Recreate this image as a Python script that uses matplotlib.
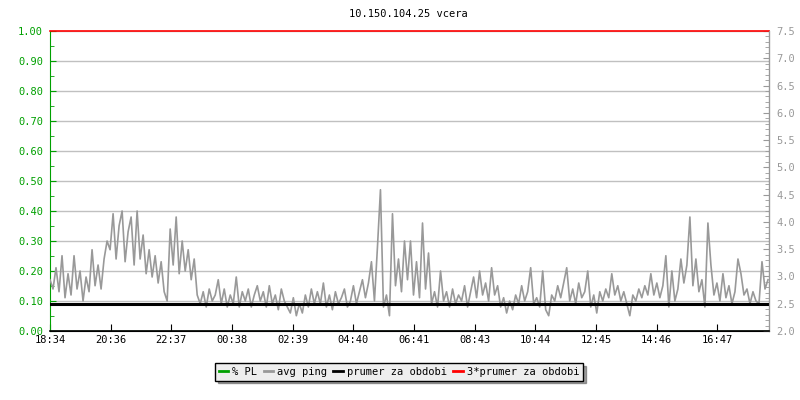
import matplotlib.pyplot as plt
import numpy as np

# avg ping [ms], one sample every 6 minutes from 18:34 (one row = one hour)
ping_ms = [
    2.94, 2.77, 3.16, 2.72, 3.38, 2.61, 3.05, 2.66, 3.38, 2.77,
    3.10, 2.55, 2.99, 2.72, 3.49, 2.83, 3.21, 2.77, 3.32, 3.65,
    3.49, 4.15, 3.32, 3.93, 4.20, 3.27, 3.82, 4.09, 3.21, 4.20,
    3.32, 3.76, 3.05, 3.49, 2.99, 3.38, 2.88, 3.27, 2.72, 2.55,
    3.87, 3.21, 4.09, 3.05, 3.65, 3.10, 3.49, 2.94, 3.32, 2.66,
    2.50, 2.72, 2.44, 2.77, 2.55, 2.66, 2.94, 2.50, 2.77, 2.44,
    2.66, 2.50, 2.99, 2.44, 2.72, 2.55, 2.77, 2.44, 2.66, 2.83,
    2.55, 2.72, 2.44, 2.83, 2.50, 2.66, 2.39, 2.77, 2.55, 2.44,
    2.33, 2.61, 2.28, 2.50, 2.33, 2.66, 2.44, 2.77, 2.50, 2.72,
    2.50, 2.88, 2.44, 2.66, 2.39, 2.72, 2.50, 2.61, 2.77, 2.44,
    2.55, 2.83, 2.50, 2.72, 2.94, 2.61, 2.88, 3.27, 2.55, 3.54,
    4.59, 2.44, 2.66, 2.28, 4.15, 2.83, 3.32, 2.72, 3.65, 2.94,
    3.65, 2.66, 3.27, 2.61, 3.98, 2.77, 3.43, 2.50, 2.72, 2.44,
    3.10, 2.55, 2.72, 2.44, 2.77, 2.50, 2.66, 2.55, 2.83, 2.44,
    2.72, 2.99, 2.61, 3.10, 2.66, 2.88, 2.55, 3.16, 2.66, 2.83,
    2.44, 2.61, 2.33, 2.55, 2.39, 2.66, 2.50, 2.83, 2.55, 2.72,
    3.16, 2.50, 2.61, 2.44, 3.10, 2.39, 2.28, 2.66, 2.55, 2.83,
    2.61, 2.88, 3.16, 2.55, 2.77, 2.50, 2.88, 2.61, 2.72, 3.10,
    2.44, 2.66, 2.33, 2.72, 2.55, 2.77, 2.61, 3.05, 2.66, 2.83,
    2.55, 2.72, 2.50, 2.28, 2.66, 2.55, 2.77, 2.61, 2.83, 2.66,
    3.05, 2.66, 2.88, 2.61, 2.83, 3.38, 2.44, 3.10, 2.55, 2.77,
    3.32, 2.88, 3.21, 4.09, 2.83, 3.32, 2.72, 2.94, 2.44, 3.98,
    3.21, 2.66, 2.88, 2.55, 3.05, 2.61, 2.83, 2.50, 2.72, 3.32,
    3.05, 2.66, 2.77, 2.50, 2.72, 2.55, 2.50, 3.27, 2.77, 2.94,
]
step_min = 6
pl_pct = [0.0, 0.0]           # packet loss, start and end of period
prumer = 2.5                  # prumer za obdobi [ms]
tick_labels = ['18:34', '20:36', '22:37', '00:38', '02:39', '04:40',
               '06:41', '08:43', '10:44', '12:45', '14:46', '16:47']
tick_step_min = 1333 / 11
span_min = 1436

t = np.arange(len(ping_ms)) * step_min

plt.rcParams['font.family'] = 'DejaVu Sans Mono'
plt.rcParams['font.size'] = 7.5

green = '#00a000'
grey = '#999999'

fig = plt.figure(figsize=(8, 4), dpi=100)
ax = fig.add_axes([50 / 800, 69 / 400, 719 / 800, 300 / 400])
ax2 = ax.twinx()

ax.set_xlim(0, span_min)
ax.set_ylim(0, 1)
ax2.set_ylim(2.0, 7.5)

ax.set_yticks(np.arange(0, 1.01, 0.1))
ax.set_yticklabels(['%.2f' % v for v in np.arange(0, 1.01, 0.1)])
ax.set_yticks(np.arange(0.05, 1.0, 0.1), minor=True)
ax.grid(axis='y', color='#c0c0c0', lw=1)
ax.tick_params(axis='y', which='both', direction='in', colors=green, pad=5)
ax.tick_params(axis='y', which='major', length=4)
ax.tick_params(axis='y', which='minor', length=3)

ax.set_xticks(np.arange(len(tick_labels)) * tick_step_min)
ax.set_xticklabels(tick_labels)
ax.tick_params(axis='x', direction='in', length=5, colors='black', pad=3)

ax2.set_yticks(np.arange(2.0, 7.51, 0.5))
ax2.set_yticks(np.arange(2.0, 7.51, 0.1), minor=True)
ax2.tick_params(axis='y', which='both', direction='in', colors=grey, pad=5)
ax2.tick_params(axis='y', which='major', length=4)
ax2.tick_params(axis='y', which='minor', length=3)

for a in (ax, ax2):
    a.spines['top'].set_visible(False)
ax.spines['left'].set_color(green)
ax2.spines['right'].set_color(grey)
ax2.spines['left'].set_visible(False)
# bottom axis drawn in black over the (zero) packet-loss line
ax2.spines['bottom'].set_color('black')
ax2.spines['bottom'].set_linewidth(1.2)

ax.plot([0, span_min], pl_pct, color=green, lw=1, label='% PL', zorder=1)
ax2.plot(t, ping_ms, color=grey, lw=1.2, label='avg ping')
ax2.axhline(prumer, color='black', lw=2.2, label='prumer za obdobi')
ax2.axhline(3 * prumer, color='red', lw=1.2, label='3*prumer za obdobi', clip_on=False)

fig.text(408 / 800, 1 - 14 / 400, '10.150.104.25 vcera', ha='center', va='center')

h1, lb1 = ax.get_legend_handles_labels()
h2, lb2 = ax2.get_legend_handles_labels()
leg = fig.legend(h1 + h2, lb1 + lb2, loc='center', bbox_to_anchor=(399 / 800, 1 - 372 / 400),
                 ncol=4, frameon=True, fancybox=False, shadow=True, edgecolor='black',
                 facecolor='#eeeeee', handlelength=0.9, handletextpad=0.4,
                 columnspacing=0.6, borderpad=0.35, framealpha=1)
leg.get_frame().set_linewidth(1)
for line in leg.get_lines():
    line.set_linewidth(2)

fig.savefig('out.png', dpi=100)
